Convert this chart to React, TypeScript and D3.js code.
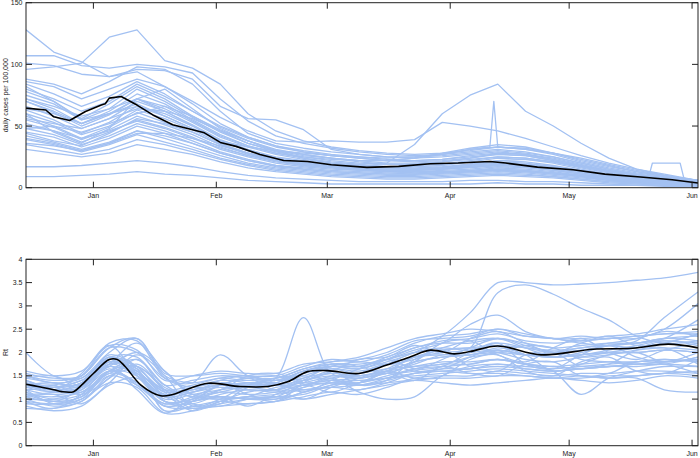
import React, { useEffect } from "react";
import * as d3 from "d3";

// ---------- DATA ----------
const weekDates = [
  "2020-12-15", "2020-12-22", "2020-12-29", "2021-01-05", "2021-01-12", "2021-01-19", "2021-01-26",
  "2021-02-02", "2021-02-09", "2021-02-16", "2021-02-23", "2021-03-02", "2021-03-09", "2021-03-16",
  "2021-03-23", "2021-03-30", "2021-04-06", "2021-04-13", "2021-04-20", "2021-04-27", "2021-05-04",
  "2021-05-11", "2021-05-18", "2021-05-25", "2021-06-02T12:00",
];

const monthTicks = ["2021-01-01", "2021-02-01", "2021-03-01", "2021-04-01", "2021-05-01", "2021-06-01"];
const monthLabels = ["Jan", "Feb", "Mar", "Apr", "May", "Jun"];

const casesTicks = [0, 50, 100, 150];
const rtTicks = [0, 0.5, 1, 1.5, 2, 2.5, 3, 3.5, 4];
const rtTickLabels = ["0", "0.5", "1", "1.5", "2", "2.5", "3", "3.5", "4"];

// daily cases per 100,000 for each state (weekly readings)
const caseLines: number[][] = [
  [128,110,102,90,94,82,68,52,41,34,29,26,24,22,22,23,25,27,26,22,17,13,10,7,5],
  [96,98,101,122,128,103,97,84,60,46,38,33,30,28,27,28,30,33,31,27,21,16,12,9,6],
  [107,107,99,97,100,98,93,72,54,42,36,32,29,27,26,27,29,31,29,25,20,15,11,8,5],
  [101,99,92,90,96,95,88,66,56,55,47,31,27,25,24,25,27,29,27,24,19,14,11,8,5],
  [86,82,72,80,88,82,70,57,46,38,37,38,37,37,39,53,50,46,40,33,26,20,15,11,6],
  [84,76,66,74,86,76,62,50,41,34,30,27,25,23,22,23,26,28,27,23,18,14,10,8,5],
  [80,72,62,70,84,74,62,49,40,33,29,26,24,22,21,22,24,27,26,22,17,13,10,7,4],
  [78,70,56,68,82,72,58,47,38,31,27,24,22,20,20,21,23,25,24,21,16,12,9,7,4],
  [75,68,55,64,80,70,57,45,36,29,25,22,20,19,19,21,24,28,27,23,18,13,10,7,4],
  [72,64,52,62,76,68,55,43,34,28,24,21,19,17,17,18,21,24,23,20,15,11,8,6,4],
  [70,61,50,59,72,64,53,41,33,27,23,20,18,17,16,17,19,22,21,18,14,11,8,6,3],
  [66,58,48,56,70,62,51,39,31,25,22,19,17,16,15,16,18,20,19,17,13,10,7,5,3],
  [63,55,44,53,66,60,50,38,30,24,21,18,16,15,15,16,18,21,20,17,14,10,7,5,3],
  [60,53,43,50,63,56,47,36,28,23,20,17,16,14,14,15,17,19,18,15,12,9,7,5,3],
  [58,50,40,49,61,53,45,35,27,22,19,17,15,14,14,15,16,18,17,14,11,8,6,4,2],
  [55,49,39,47,58,51,43,33,26,21,18,16,14,13,13,14,15,17,16,14,11,8,6,4,2],
  [52,46,37,45,55,49,41,31,25,20,17,15,14,13,12,13,14,16,15,13,10,7,5,4,2],
  [48,43,35,42,52,46,38,29,23,18,16,14,13,12,11,12,13,15,14,12,9,7,5,3,2],
  [45,41,33,40,50,44,36,28,22,17,15,13,12,11,11,12,13,14,13,11,9,6,5,3,2],
  [42,37,31,37,46,40,33,26,20,16,14,12,11,10,10,11,12,13,12,10,8,6,4,3,2],
  [39,35,29,35,43,37,31,24,19,15,13,11,10,9,9,10,11,12,11,9,7,5,4,3,2],
  [35,31,27,31,39,35,29,23,18,14,12,10,9,8,8,9,10,11,10,9,7,5,4,3,2],
  [31,28,25,28,35,31,27,21,16,13,11,9,8,7,7,8,9,10,9,8,6,4,3,2,1],
  [17,17,18,20,22,20,17,13,10,8,7,6,5,5,5,5,6,6,5,5,4,3,2,2,1],
  [9,9,10,11,13,11,10,8,6,5,4,3,3,3,3,3,3,4,3,3,2,2,2,1,1],
  [60,45,36,48,72,80,64,48,38,30,26,24,22,22,24,28,32,35,33,28,22,17,13,9,6],
  [48,50,45,52,60,66,58,46,36,30,27,24,21,19,18,19,22,25,24,21,17,13,10,7,4],
  [82,70,55,60,68,58,48,38,30,24,20,17,15,13,12,12,13,14,13,11,9,7,5,4,3],
  [64,60,52,60,66,58,48,38,33,30,28,26,25,24,25,27,31,33,31,28,24,19,14,10,6],
  [44,38,34,44,56,52,45,35,28,23,20,18,16,15,15,16,19,22,23,21,17,13,10,7,4],
  [72,66,58,64,72,62,50,38,30,24,21,18,16,14,13,13,14,15,14,12,10,8,6,4,3],
  [36,34,30,36,44,44,40,34,28,22,18,16,15,14,14,15,17,19,18,16,13,10,8,6,3],
  [56,52,48,56,64,62,56,46,38,30,24,20,18,16,15,16,17,18,17,15,12,9,7,5,3],
  [50,46,40,46,54,48,40,32,26,22,19,18,17,20,35,60,75,84,62,50,36,24,15,10,5],
  [88,84,76,86,98,96,84,62,44,36,32,29,27,25,25,26,28,30,28,25,20,15,11,8,5],
];

// state with a one-day reporting spike in April
const spikeDates = [
  "2020-12-15","2020-12-22","2020-12-29","2021-01-05","2021-01-12","2021-01-19","2021-01-26",
  "2021-02-02","2021-02-09","2021-02-16","2021-02-23","2021-03-02","2021-03-09","2021-03-16",
  "2021-03-23","2021-03-30","2021-04-06","2021-04-11","2021-04-12","2021-04-13","2021-04-20",
  "2021-04-27","2021-05-04","2021-05-11","2021-05-18","2021-05-25","2021-06-02T12:00",
];
const spikeValues = [70,62,52,60,72,66,54,42,34,28,25,23,22,22,24,27,31,33,70,33,32,28,23,18,13,10,6];

// state with a flat step in late May
const stepDates = [
  "2020-12-15","2020-12-22","2020-12-29","2021-01-05","2021-01-12","2021-01-19","2021-01-26",
  "2021-02-02","2021-02-09","2021-02-16","2021-02-23","2021-03-02","2021-03-09","2021-03-16",
  "2021-03-23","2021-03-30","2021-04-06","2021-04-13","2021-04-20","2021-04-27","2021-05-04",
  "2021-05-11","2021-05-18","2021-05-21","2021-05-22","2021-05-29","2021-05-30","2021-06-02T12:00",
];
const stepValues = [40,36,30,36,46,42,36,28,22,18,15,13,12,11,11,12,13,14,13,12,10,9,8,8,20,20,7,4];

const casesMeanDates = [
  "2020-12-15","2020-12-20","2020-12-22","2020-12-26","2020-12-30","2021-01-03","2021-01-04",
  "2021-01-05","2021-01-08","2021-01-12","2021-01-16","2021-01-21","2021-01-29","2021-02-02",
  "2021-02-06","2021-02-12","2021-02-18","2021-02-24","2021-03-02","2021-03-11","2021-03-19",
  "2021-03-27","2021-04-03","2021-04-11","2021-04-15","2021-04-23","2021-05-02","2021-05-10",
  "2021-05-19","2021-05-27","2021-06-02T12:00",
];
const casesMeanValues = [64.5,63,57.5,54.5,61.8,67,68,72.6,74,67,59,51,44.5,36.7,33.5,27,22,21.3,18.6,16.5,17.3,19.4,20,21.3,20,16.7,14.6,11,8.7,6.5,3.8];

// Rt for each state (weekly readings)
const rtLines: number[][] = [
  [2.0,1.5,1.45,1.9,1.9,1.3,1.4,1.5,1.45,1.4,1.6,1.7,1.65,1.85,2.1,2.2,2.2,2.3,2.2,2.1,2.15,2.2,2.2,2.3,2.25],
  [1.55,1.45,1.5,2.1,2.3,1.55,1.5,1.55,1.5,1.5,1.7,1.85,1.8,1.95,2.2,2.35,2.4,2.5,2.4,2.3,2.35,2.3,2.35,2.4,2.45],
  [1.5,1.35,1.45,2.0,2.3,1.5,1.35,1.45,1.4,1.45,1.65,1.75,1.7,1.9,2.1,2.25,2.3,2.4,2.25,2.2,2.25,2.3,2.3,2.45,2.35],
  [1.45,1.5,1.3,1.75,2.2,1.6,1.1,1.2,1.5,1.55,1.4,1.6,1.85,1.9,2.15,2.0,2.3,2.45,2.2,2.0,2.2,2.35,2.15,2.2,2.4],
  [1.4,1.25,1.35,1.95,1.7,1.15,1.25,1.4,1.35,1.3,1.55,1.65,1.55,1.75,2.0,2.1,2.05,2.2,2.1,2.0,2.1,2.15,2.1,2.25,2.15],
  [1.35,1.2,1.55,2.15,1.5,0.95,1.0,1.3,1.45,1.2,1.4,1.75,1.7,1.55,1.8,2.2,2.25,1.95,1.8,2.1,2.3,2.0,1.85,2.05,2.2],
  [1.3,1.15,1.25,1.8,1.55,1.05,1.15,1.25,1.2,1.2,1.45,1.55,1.5,1.65,1.9,1.95,1.95,2.05,1.95,1.9,1.95,2.0,2.0,2.05,2.0],
  [1.25,1.3,1.1,1.45,1.95,1.5,0.85,1.0,1.3,1.35,1.15,1.4,1.65,1.85,1.65,1.7,2.0,2.2,1.75,1.65,1.95,2.15,1.9,1.8,2.0],
  [1.2,0.9,1.0,1.6,1.7,1.2,0.8,0.9,1.25,1.3,1.2,1.3,1.55,1.75,1.6,1.65,1.9,2.1,1.95,1.6,1.75,1.95,2.0,1.8,1.9],
  [1.15,0.95,1.25,1.9,1.65,0.75,0.95,1.3,1.1,0.95,1.35,1.6,1.3,1.4,1.85,2.05,1.7,1.6,1.95,2.0,1.7,1.75,2.05,2.1,1.75],
  [1.1,0.95,1.05,1.6,1.35,0.85,0.95,1.05,1.0,1.0,1.25,1.35,1.3,1.45,1.65,1.75,1.75,1.85,1.75,1.7,1.75,1.8,1.8,1.85,1.8],
  [1.05,1.1,0.9,1.35,1.85,1.15,0.75,0.95,1.15,1.2,1.0,1.25,1.45,1.6,1.45,1.5,1.85,1.95,1.6,1.5,1.8,1.9,1.6,1.55,1.85],
  [1.0,0.85,0.95,1.5,1.6,0.75,0.85,0.95,0.9,0.95,1.15,1.25,1.2,1.35,1.55,1.65,1.65,1.75,1.65,1.6,1.65,1.7,1.7,1.75,1.7],
  [0.95,0.8,1.1,1.7,1.2,0.7,1.0,1.05,0.85,1.1,1.3,1.15,1.35,1.55,1.4,1.7,1.55,1.5,1.75,1.8,1.5,1.55,1.8,1.75,1.55],
  [0.85,0.75,0.85,1.3,1.45,0.95,0.8,0.85,0.9,0.95,1.05,1.15,1.1,1.25,1.45,1.5,1.5,1.6,1.55,1.5,1.55,1.55,1.6,1.6,1.55],
  [0.8,0.8,0.95,1.45,1.75,1.2,0.9,0.85,1.0,1.05,1.0,1.1,1.2,1.3,1.4,1.45,1.45,1.5,1.5,1.45,1.45,1.5,1.5,1.55,1.5],
  [1.6,1.5,1.6,2.15,2.05,1.4,1.5,1.6,1.55,1.55,1.75,1.8,1.85,2.0,2.25,2.3,2.35,2.5,2.35,2.3,2.3,2.35,2.4,2.5,2.6],
  [1.25,1.3,1.5,2.2,2.25,1.45,1.25,1.3,1.35,1.4,1.45,1.7,1.8,1.75,1.85,2.1,2.25,2.3,2.1,1.9,2.0,2.15,2.2,2.25,2.2],
  [1.1,1.15,1.35,1.7,2.0,1.6,1.1,1.0,1.05,1.25,1.3,1.45,1.55,1.65,1.7,1.75,1.9,2.0,2.15,2.1,1.85,1.8,1.75,1.8,1.85],
  [1.4,1.2,1.15,1.6,1.85,1.3,1.05,1.15,1.3,1.45,1.5,1.4,1.35,1.6,1.9,2.05,2.1,2.0,1.85,1.8,1.9,2.0,2.1,2.2,2.4],
  [1.0,1.0,1.2,1.75,1.5,0.95,0.9,1.1,1.2,1.15,1.25,1.5,1.45,1.55,1.75,1.95,2.0,2.05,1.95,1.9,1.95,2.05,2.15,2.3,2.7],
  [1.3,1.35,1.25,1.65,1.3,0.9,1.05,1.3,1.45,1.5,1.35,1.4,1.45,1.55,1.6,1.85,2.1,2.3,2.15,2.0,1.9,1.95,2.05,2.1,2.05],
  [1.2,1.25,1.4,1.85,1.7,1.05,0.95,1.2,1.35,1.3,1.4,1.55,1.5,1.6,1.7,1.8,1.8,1.85,1.75,1.7,1.65,1.7,1.75,1.8,1.85],
  [0.9,0.9,1.05,1.55,1.35,0.85,0.8,0.9,1.0,1.05,1.1,1.3,1.35,1.45,1.5,1.55,1.6,1.65,1.6,1.55,1.5,1.45,1.5,1.55,1.6],
  [1.3,1.2,1.3,1.85,1.5,1.1,1.2,1.3,1.25,1.45,2.75,1.55,1.5,1.6,1.8,1.9,1.95,2.05,1.95,1.9,1.95,2.0,2.0,2.05,2.0],
  [1.35,1.25,1.35,1.9,1.6,1.15,1.25,1.35,1.3,1.35,1.6,1.7,1.65,1.8,2.0,2.35,2.85,3.5,3.5,3.45,3.47,3.5,3.55,3.6,3.72],
  [1.25,1.15,1.25,1.8,1.55,1.05,1.15,1.3,1.25,1.3,1.5,1.65,1.6,1.75,1.9,2.0,2.1,3.28,3.45,3.25,2.95,2.7,2.35,2.2,2.25],
  [1.15,1.0,1.1,1.6,1.5,1.0,1.1,1.2,1.25,1.2,1.4,1.5,1.45,1.6,1.8,1.9,1.95,2.0,1.95,2.0,2.05,2.15,2.25,2.75,3.3],
  [1.45,1.35,1.3,1.75,1.65,1.2,1.3,1.45,1.5,1.4,1.6,1.75,1.75,1.85,2.0,2.05,2.1,2.15,2.1,2.05,2.1,2.2,2.3,2.5,3.05],
  [1.05,0.95,1.05,1.5,1.3,0.85,0.95,1.05,1.0,1.05,1.3,1.4,1.35,1.5,1.65,1.7,1.75,1.85,1.75,1.6,1.1,1.45,1.6,1.7,1.7],
  [1.2,1.1,1.2,1.6,1.35,0.9,1.0,1.15,1.1,1.15,1.3,1.35,1.3,1.4,1.55,1.6,1.55,1.55,1.5,1.45,1.5,1.45,1.45,1.2,1.15],
  [1.35,1.25,1.4,1.7,1.55,1.2,1.15,1.4,1.5,1.3,1.35,1.45,1.15,1.0,1.05,1.5,1.7,1.75,1.7,1.65,1.7,1.75,1.8,1.85,1.8],
  [1.3,1.2,1.25,1.8,1.6,1.1,1.2,1.3,1.3,1.35,1.55,1.7,1.7,1.85,2.05,2.2,2.6,2.8,2.45,2.3,2.25,2.3,2.35,2.4,2.4],
  [1.1,1.05,1.15,1.55,1.7,1.25,1.05,1.0,1.05,1.1,1.2,1.25,1.3,1.35,1.4,1.35,1.3,1.35,1.4,1.45,1.4,1.35,1.4,1.5,1.45],
  [1.5,1.4,1.5,2.1,2.0,1.45,1.35,1.95,1.5,1.45,1.65,1.8,1.9,2.1,2.3,2.4,2.5,2.45,2.35,2.3,2.2,2.15,2.2,2.3,2.35],
  [0.95,0.9,1.0,1.35,1.25,0.7,0.75,0.95,1.05,1.0,1.15,1.35,1.4,1.45,1.55,1.6,1.65,1.7,1.65,1.6,1.65,1.7,1.75,1.75,1.9],
];

const rtMeanDates = [
  "2020-12-15","2020-12-18","2020-12-22","2020-12-24","2020-12-27","2020-12-29","2021-01-01",
  "2021-01-05","2021-01-07","2021-01-09","2021-01-13","2021-01-18","2021-01-21","2021-01-24",
  "2021-01-30","2021-02-07","2021-02-14","2021-02-19","2021-02-24","2021-03-01","2021-03-09",
  "2021-03-16","2021-03-22","2021-03-27","2021-04-02","2021-04-06","2021-04-13","2021-04-24",
  "2021-05-07","2021-05-17","2021-05-26","2021-06-02T12:00",
];
const rtMeanValues = [1.32,1.27,1.2,1.16,1.16,1.3,1.55,1.85,1.85,1.7,1.3,1.07,1.1,1.19,1.34,1.27,1.27,1.37,1.59,1.61,1.55,1.73,1.91,2.05,1.97,2.02,2.14,1.95,2.07,2.09,2.18,2.1];

// ---------- RENDER ----------
const W = 700;
const H = 458;
const LEFT = 26;
const RIGHT = 698;
const P1 = { top: 2.7, bottom: 187.7 };
const P2 = { top: 259.3, bottom: 445.7 };
const BLUE = "#a3c1f2";
const AXIS = "#222";
const FONT = "'Liberation Sans', Arial, Helvetica, sans-serif";
const TICK = 6;

const parse = (s: string) => new Date(s.includes("T") ? s : s + "T00:00");

const x = d3
  .scaleTime()
  .domain([parse("2020-12-15"), parse("2021-06-02T12:00")])
  .range([LEFT, RIGHT]);

type Pt = [Date, number];
const zipPts = (dates: string[], vals: number[]): Pt[] => vals.map((v, i) => [parse(dates[i]), v]);

function Panel({
  top, bottom, domain, ticks, tickLabels, ylabel, lines, mean, curve, idp,
}: {
  top: number; bottom: number; domain: [number, number]; ticks: number[]; tickLabels: string[];
  ylabel: string; lines: Pt[][]; mean: Pt[]; curve: d3.CurveFactory; idp: string;
}) {
  const y = d3.scaleLinear().domain(domain).range([bottom, top]);
  const line = d3
    .line<Pt>()
    .x((d) => x(d[0]))
    .y((d) => y(d[1]))
    .curve(curve);
  const mid = (top + bottom) / 2;
  return (
    <g>
      <defs>
        <clipPath id={idp}>
          <rect x={LEFT} y={top} width={RIGHT - LEFT} height={bottom - top} />
        </clipPath>
      </defs>
      <g clipPath={`url(#${idp})`}>
        {lines.map((l, i) => (
          <path key={i} d={line(l) || ""} fill="none" stroke={BLUE} strokeWidth={1.3} strokeLinejoin="round" />
        ))}
        <path d={line(mean) || ""} fill="none" stroke="#000" strokeWidth={1.6} strokeLinejoin="round" />
      </g>
      <rect x={LEFT} y={top} width={RIGHT - LEFT} height={bottom - top} fill="none" stroke={AXIS} strokeWidth={1} />
      {monthTicks.map((m, i) => {
        const px = x(parse(m));
        return (
          <g key={m}>
            <line x1={px} x2={px} y1={bottom} y2={bottom - TICK} stroke={AXIS} />
            <line x1={px} x2={px} y1={top} y2={top + TICK} stroke={AXIS} />
            <text x={px} y={bottom + 10.5} fontSize={7} textAnchor="middle" fill={AXIS} fontFamily={FONT}>
              {monthLabels[i]}
            </text>
          </g>
        );
      })}
      {ticks.map((t, i) => {
        const py = y(t);
        return (
          <g key={t}>
            <line x1={LEFT} x2={LEFT + TICK} y1={py} y2={py} stroke={AXIS} />
            <line x1={RIGHT} x2={RIGHT - TICK} y1={py} y2={py} stroke={AXIS} />
            <text x={LEFT - 3.5} y={py + 2.5} fontSize={7} textAnchor="end" fill={AXIS} fontFamily={FONT}>
              {tickLabels[i]}
            </text>
          </g>
        );
      })}
      <text
        transform={`translate(8,${mid}) rotate(-90)`}
        fontSize={7}
        textAnchor="middle"
        fill={AXIS}
        fontFamily={FONT}
      >
        {ylabel}
      </text>
    </g>
  );
}

export default function App() {
  useEffect(() => {
    document.body.style.margin = "0";
  }, []);

  const caseSeries: Pt[][] = caseLines.map((vals) => zipPts(weekDates, vals));
  caseSeries.push(zipPts(spikeDates, spikeValues));
  caseSeries.push(zipPts(stepDates, stepValues));
  const rtSeries: Pt[][] = rtLines.map((vals) => zipPts(weekDates, vals));

  return (
    <svg width={W} height={H} style={{ display: "block", background: "#fff" }}>
      <Panel
        idp="clipCases"
        top={P1.top}
        bottom={P1.bottom}
        domain={[0, 150]}
        ticks={casesTicks}
        tickLabels={casesTicks.map(String)}
        ylabel="daily cases per 100,000"
        lines={caseSeries}
        mean={zipPts(casesMeanDates, casesMeanValues)}
        curve={d3.curveLinear}
      />
      <Panel
        idp="clipRt"
        top={P2.top}
        bottom={P2.bottom}
        domain={[0, 4]}
        ticks={rtTicks}
        tickLabels={rtTickLabels}
        ylabel="Rt"
        lines={rtSeries}
        mean={zipPts(rtMeanDates, rtMeanValues)}
        curve={d3.curveCatmullRom.alpha(0.5)}
      />
    </svg>
  );
}
